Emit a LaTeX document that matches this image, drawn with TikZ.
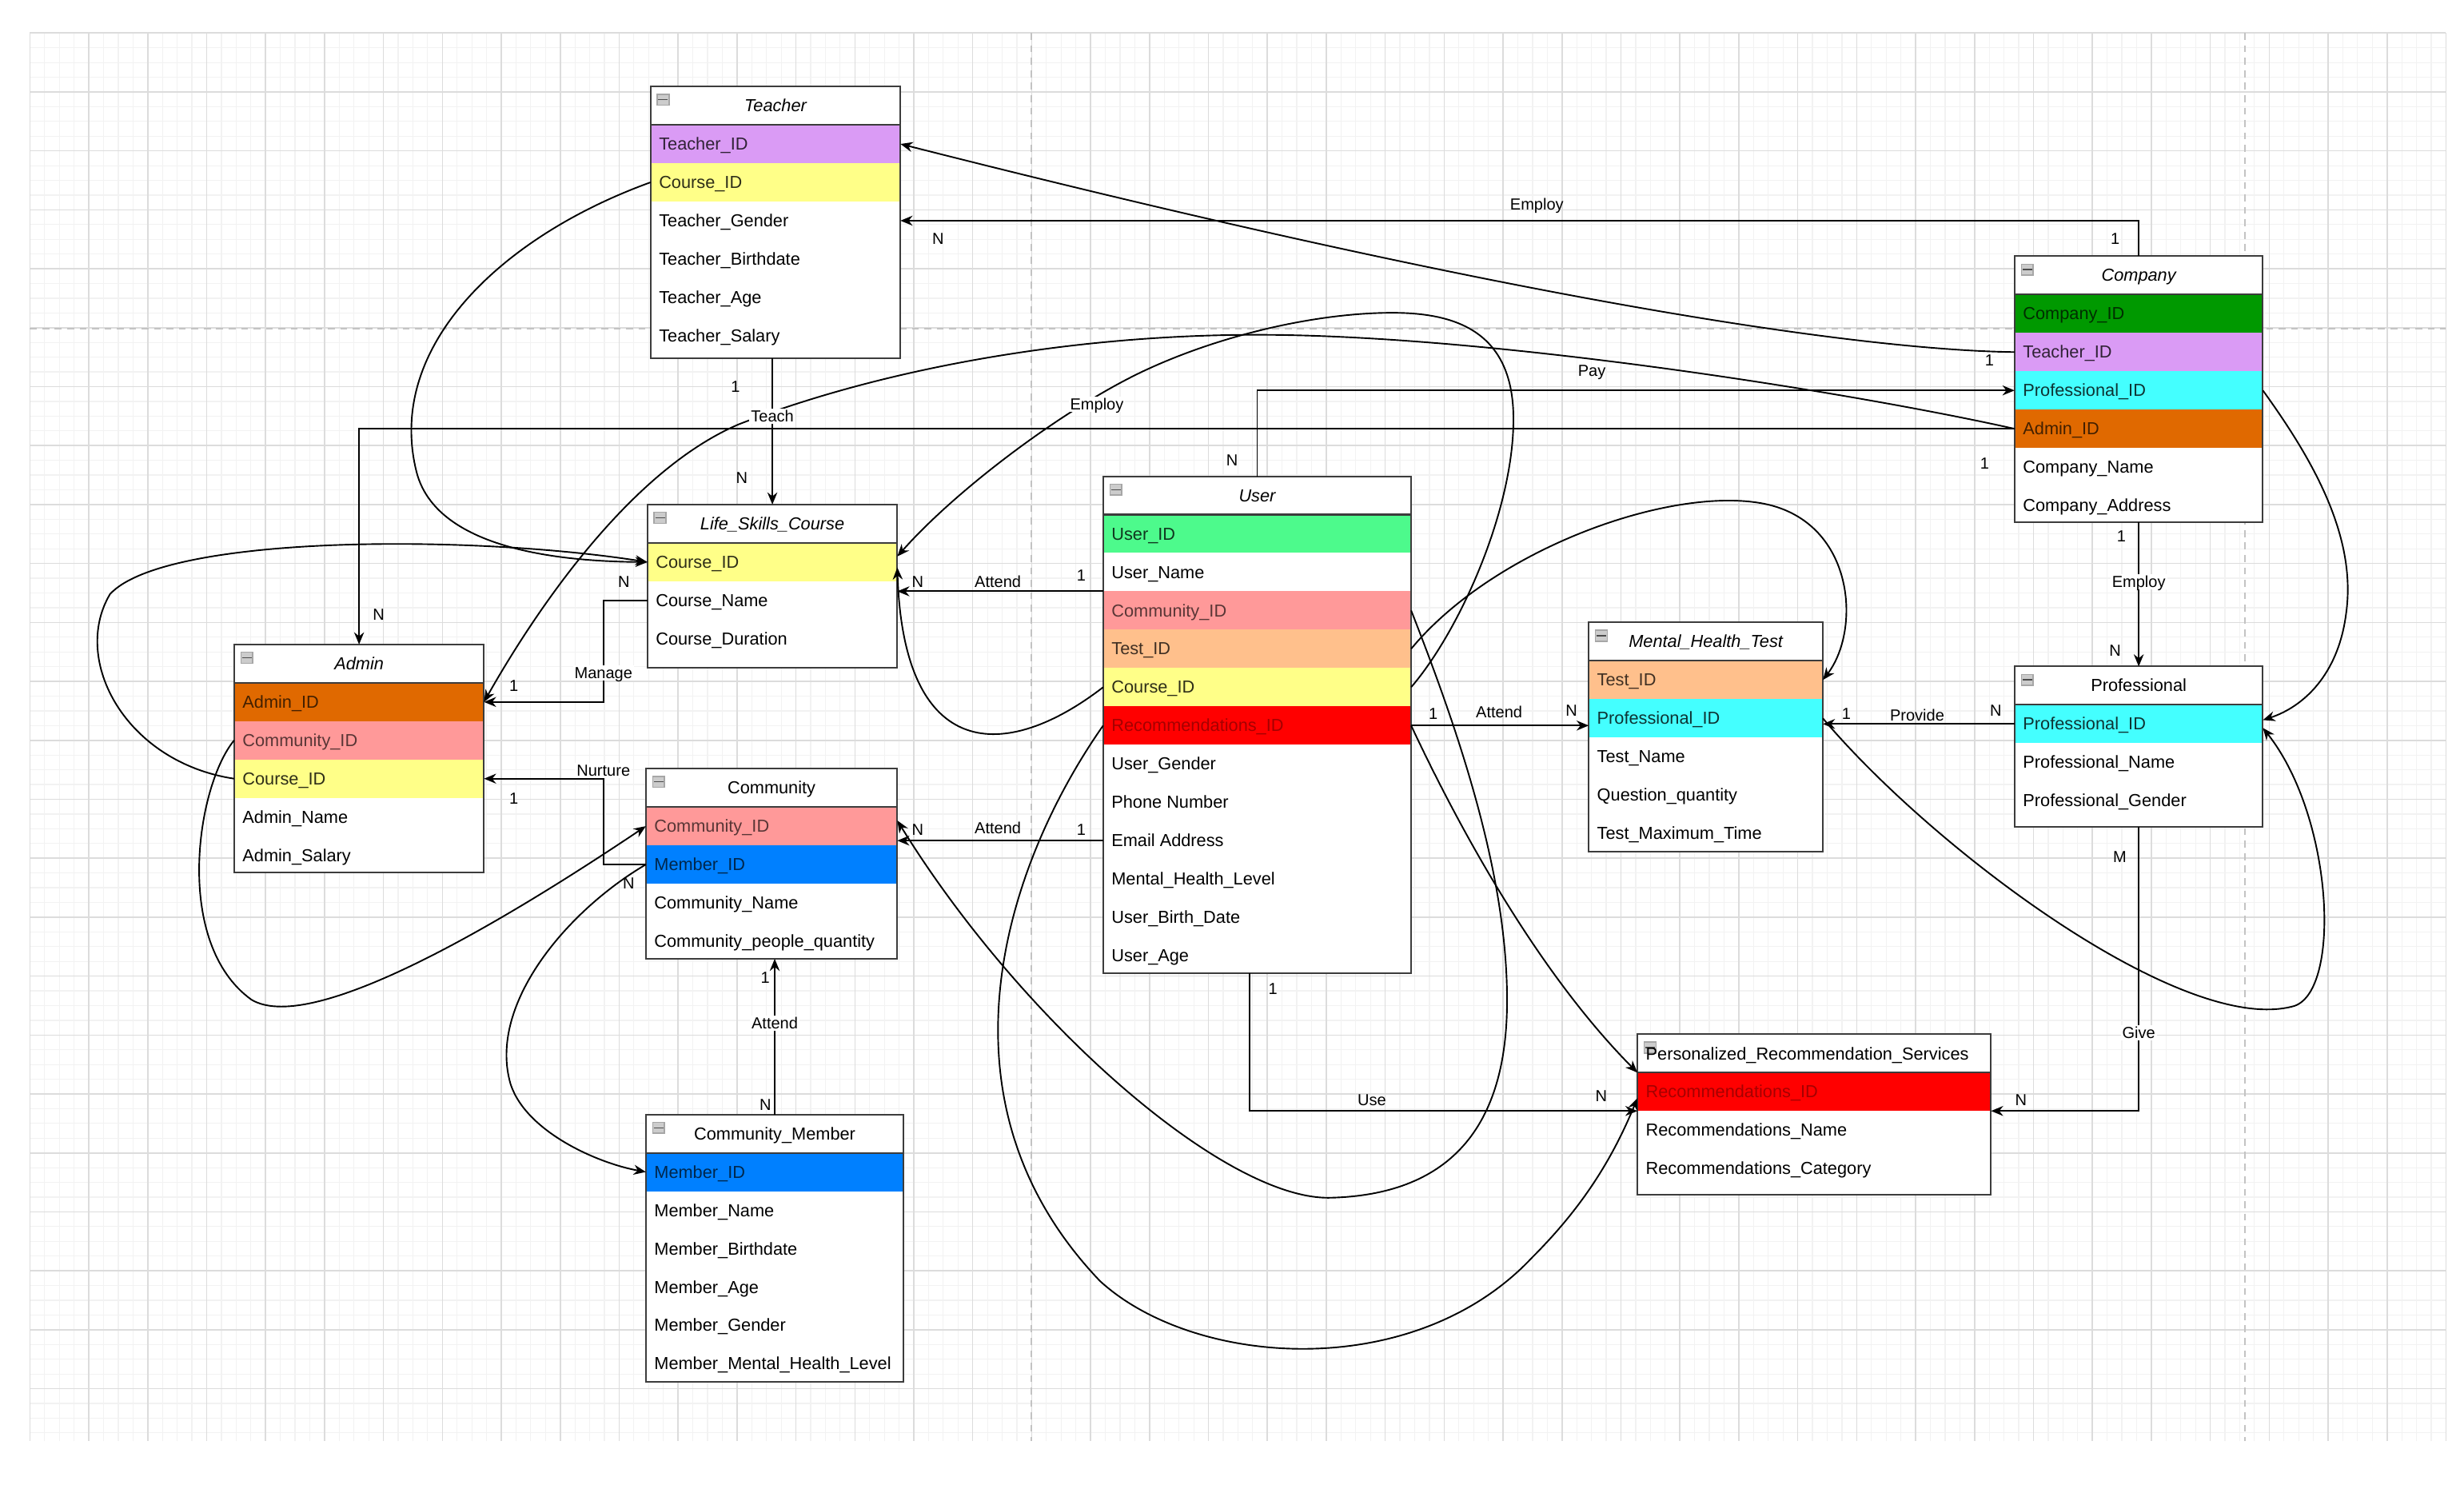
\documentclass[tikz,border=0pt]{standalone}
\usepackage{fontspec}
\setmainfont{Liberation Sans}
\usetikzlibrary{arrows.meta,calc}
\definecolor{cPur}{RGB}{218,155,245}
\definecolor{cYel}{RGB}{255,255,136}
\definecolor{cGrn}{RGB}{0,153,0}
\definecolor{cCya}{RGB}{68,255,255}
\definecolor{cOra}{RGB}{224,105,0}
\definecolor{cUgr}{RGB}{77,250,140}
\definecolor{cPnk}{RGB}{255,153,153}
\definecolor{cPch}{RGB}{255,192,140}
\definecolor{cRed}{RGB}{255,0,0}
\definecolor{tRed}{RGB}{165,0,0}
\definecolor{cBlu}{RGB}{0,128,255}
\definecolor{gMin}{RGB}{242,242,242}
\definecolor{gMaj}{RGB}{220,220,220}
\definecolor{gDash}{RGB}{195,195,195}
\definecolor{eBord}{RGB}{60,60,60}
\newcommand\efont{\fontsize{6.3}{7.5}\selectfont}
\newcommand\lfont{\fontsize{5.8}{7}\selectfont}
\newcommand\RH{24.4}
\newcommand\ent[5]{%
  \gdef\eid{#1}\gdef\eL{#2}\gdef\eT{#3}\gdef\eR{#4}%
  \node[ebg, minimum width={(#4-#2)*0.02cm}, minimum height={(#5-#3)*0.02cm}] (#1) at (#2,#3) {};}
\newcommand\erow[4]{%
  \node[rowfill, fill=#2, minimum width={(\eR-\eL)*0.02cm}] (\eid#1) at (\eL,{\eT+#1*\RH}) {};
  \node[etext, text=#3] (\eid#1t) at ({\eL+5},{\eT+(#1+0.5)*\RH}) {#4};}
\newcommand\eframe{%
  \draw[eborder] (\eL,{\eT+\RH}) -- (\eR,{\eT+\RH});
  \draw[eborder] (\eid.north west) rectangle (\eid.south east);
  \node[icon] (\eid ic) at ({\eL+8},{\eT+8.5}) {};}
\newcommand\efin[2]{%
  \eframe
  \node[etitle, font={\efont#2}] (\eid hd) at ({(\eL+\eR)/2},{\eT+\RH/2}) {#1};}
\tikzset{
 ebg/.style={anchor=north west, fill=white, inner sep=0pt, outer sep=0pt, draw=none},
 rowfill/.style={anchor=north west, inner sep=0pt, outer sep=0pt, draw=none, minimum height=0.488cm},
 etext/.style={anchor=west, inner sep=0pt, font=\efont, text height=4.5pt, text depth=0.1pt},
 etitle/.style={inner sep=0pt, text height=4.5pt, text depth=0.1pt},
 eborder/.style={draw=eBord, line width=0.6pt},
 icon/.style={draw=gray!70, fill=gray!40, minimum width=0.15cm, minimum height=0.14cm, inner sep=0pt,
   path picture={\draw[gray!60!black, line width=0.35pt] ([xshift=0.4pt]path picture bounding box.west) -- ([xshift=-0.4pt]path picture bounding box.east);}},
 conn/.style={draw=black, line width=0.55pt},
 tip/.style={-{Stealth[length=4.4pt,width=3.6pt]}},
 lbl/.style={font=\lfont, inner sep=0.6pt, text height=4.2pt, text depth=0.1pt},
 lblw/.style={lbl, fill=white},
 gmin/.style={draw=gMin, line width=0.35pt},
 gmaj/.style={draw=gMaj, line width=0.45pt},
 gdash/.style={draw=gDash, line width=0.6pt, dash pattern=on 2.5pt off 2pt},
}
\begin{document}
\begin{tikzpicture}[x=0.02cm, y=-0.02cm]
\fill[white] (0,0) rectangle (1568,952);
\useasboundingbox (0,0) rectangle (1568,952);
% grid
\foreach \i in {0,...,164} \draw[gmin] ({19+\i*9.375},21) -- ({19+\i*9.375},917);
\foreach \j in {0,...,95} \draw[gmin] (19,{21+\j*9.375}) -- (1556.5,{21+\j*9.375});
\foreach \i in {0,...,41} \draw[gmaj] ({19+\i*37.5},21) -- ({19+\i*37.5},917);
\foreach \j in {0,...,23} \draw[gmaj] (19,{21+\j*37.5}) -- (1556.5,{21+\j*37.5});
\draw[gdash] (656.5,21) -- (656.5,917);
\draw[gdash] (1428.5,21) -- (1428.5,917);
\draw[gdash] (19,209) -- (1556.5,209);

% Teacher
\ent{T}{414}{55}{573}{228}
\erow{1}{cPur}{cPur!22!black}{Teacher\_ID}
\erow{2}{cYel}{cYel!18!black}{Course\_ID}
\erow{3}{none}{black}{Teacher\_Gender}
\erow{4}{none}{black}{Teacher\_Birthdate}
\erow{5}{none}{black}{Teacher\_Age}
\erow{6}{none}{black}{Teacher\_Salary}
\efin{Teacher}{\itshape}

% Company
\ent{C}{1282}{163}{1440}{332}
\erow{1}{cGrn}{cGrn!30!black}{Company\_ID}
\erow{2}{cPur}{cPur!22!black}{Teacher\_ID}
\erow{3}{cCya}{cCya!20!black}{Professional\_ID}
\erow{4}{cOra}{cOra!30!black}{Admin\_ID}
\erow{5}{none}{black}{Company\_Name}
\erow{6}{none}{black}{Company\_Address}
\efin{Company}{\itshape}

% Life skills course
\ent{L}{412}{321}{571}{425}
\erow{1}{cYel}{cYel!18!black}{Course\_ID}
\erow{2}{none}{black}{Course\_Name}
\erow{3}{none}{black}{Course\_Duration}
\efin{Life\_Skills\_Course}{\itshape}

% User
\ent{U}{702}{303}{898}{619}
\erow{1}{cUgr}{cUgr!22!black}{User\_ID}
\erow{2}{none}{black}{User\_Name}
\erow{3}{cPnk}{cPnk!35!black}{Community\_ID}
\erow{4}{cPch}{cPch!25!black}{Test\_ID}
\erow{5}{cYel}{cYel!18!black}{Course\_ID}
\erow{6}{cRed}{tRed}{Recommendations\_ID}
\erow{7}{none}{black}{User\_Gender}
\erow{8}{none}{black}{Phone Number}
\erow{9}{none}{black}{Email Address}
\erow{10}{none}{black}{Mental\_Health\_Level}
\erow{11}{none}{black}{User\_Birth\_Date}
\erow{12}{none}{black}{User\_Age}
\efin{User}{\itshape}

% Admin
\ent{A}{149}{410}{308}{555}
\erow{1}{cOra}{cOra!30!black}{Admin\_ID}
\erow{2}{cPnk}{cPnk!35!black}{Community\_ID}
\erow{3}{cYel}{cYel!18!black}{Course\_ID}
\erow{4}{none}{black}{Admin\_Name}
\erow{5}{none}{black}{Admin\_Salary}
\efin{Admin}{\itshape}

% Community
\ent{M}{411}{489}{571}{610}
\erow{1}{cPnk}{cPnk!35!black}{Community\_ID}
\erow{2}{cBlu}{cBlu!30!black}{Member\_ID}
\erow{3}{none}{black}{Community\_Name}
\erow{4}{none}{black}{Community\_people\_quantity}
\efin{Community}{\upshape}

% Mental health test
\ent{H}{1011}{396}{1160}{542}
\erow{1}{cPch}{cPch!25!black}{Test\_ID}
\erow{2}{cCya}{cCya!20!black}{Professional\_ID}
\erow{3}{none}{black}{Test\_Name}
\erow{4}{none}{black}{Question\_quantity}
\erow{5}{none}{black}{Test\_Maximum\_Time}
\efin{Mental\_Health\_Test}{\itshape}

% Professional
\ent{P}{1282}{424}{1440}{526}
\erow{1}{cCya}{cCya!20!black}{Professional\_ID}
\erow{2}{none}{black}{Professional\_Name}
\erow{3}{none}{black}{Professional\_Gender}
\efin{Professional}{\upshape}

% Recommendation services
\ent{R}{1042}{658}{1267}{760}
\erow{1}{cRed}{tRed}{Recommendations\_ID}
\erow{2}{none}{black}{Recommendations\_Name}
\erow{3}{none}{black}{Recommendations\_Category}
\eframe
\node[etitle, font=\efont, anchor=west] (Rhd) at (1047,670.5) {Personalized\_Recommendation\_Services};

% Community member
\ent{B}{411}{709}{575}{879}
\erow{1}{cBlu}{cBlu!30!black}{Member\_ID}
\erow{2}{none}{black}{Member\_Name}
\erow{3}{none}{black}{Member\_Birthdate}
\erow{4}{none}{black}{Member\_Age}
\erow{5}{none}{black}{Member\_Gender}
\erow{6}{none}{black}{Member\_Mental\_Health\_Level}
\efin{Community\_Member}{\upshape}

% ---------- connectors ----------
\draw[conn,tip] (C2.west) .. controls (1200,223) and (1000,200) .. (T1.east);
\draw[conn,tip] (C.north) |- (T3.east);
\draw[conn,tip] (U.north) |- (C3.west);
\draw[conn,tip] (C4.west) -| (A.north);
\draw[conn,tip] (C4.west) .. controls (1180,250) and (950,213) .. (800,213) .. controls (680,213) and (560,235) .. (470,270) .. controls (400,300) and (340,390) .. (A1.east);
\draw[conn,tip] (L.north |- T.south) -- (L.north);
\draw[conn,tip] (T2.west) .. controls (320,150) and (245,220) .. (265,300) .. controls (275,340) and (330,357) .. (L1.west);
\draw[conn,tip] (A3.west) .. controls (80,485) and (45,420) .. (70,378) .. controls (105,340) and (300,340) .. (L1.west);
\draw[conn,tip] (A2.west) .. controls (125,500) and (110,600) .. (160,636) .. controls (200,660) and (330,580) .. (M1.west);
\draw[conn,tip] (L2.west) -- ($(L2.west)+(-28,0)$) |- (A1.east);
\draw[conn,tip] (M2.west) -- ($(M2.west)+(-27,0)$) |- (A3.east);
\draw[conn,tip] (U2.south west) -- (U2.south west -| L.east);
\draw[conn,tip] (U9.west) -- (U9.west -| M.east);
\draw[conn,tip] (U5.west) .. controls (640,485) and (575,485) .. ($(L1.east)+(0,3.4)$);
\draw[conn,tip] (U5.east) .. controls (930,400) and (965,320) .. (963,262) .. controls (961,210) and (925,199) .. (886,199) .. controls (840,199) and (780,212) .. (730,235) .. controls (680,258) and (610,310) .. ($(L1.east)+(0,-3.6)$);
\draw[conn,tip] (U3.east) .. controls (930,470) and (960,560) .. (959,640) .. controls (958,720) and (920,760) .. (847,762) .. controls (780,764) and (650,650) .. ($(M1.east)+(0,-3.6)$);
\draw[conn,tip] (U6.east) .. controls (930,530) and (980,620) .. (R1.north west);
\draw[conn,tip] (U4.east) .. controls (950,350) and (1060,310) .. (1120,320) .. controls (1180,330) and (1185,400) .. (H1.east);
\draw[conn,tip] (U6.east) -- (U6.east -| H.west);
\draw[conn,tip] (P1.west) -- (P1.west -| H.east);
\draw[conn,tip] (C.south) -- (P.north);
\draw[conn,tip] (P.south) |- (R1.south east);
\draw[conn,tip] ($(U.south)+(-5,0)$) |- (R1.south west);
\draw[conn,tip] (U6.west) .. controls (640,550) and (590,700) .. (700,815) .. controls (760,870) and (900,880) .. (975,800) .. controls (1005,770) and (1025,740) .. ($(R1.west)+(0,4)$);
\draw[conn,tip] (M2.west) .. controls (360,580) and (310,640) .. (325,690) .. controls (335,720) and (380,740) .. (B1.west);
\draw[conn,tip] (B.north) -- (B.north |- M.south);
\draw[conn,tip] (C3.east) .. controls (1470,290) and (1500,340) .. (1493,390) .. controls (1488,430) and (1465,450) .. ($(P1.east)+(0,-2.5)$);
\draw[conn,tip] (H2.east) .. controls (1230,540) and (1390,660) .. (1460,640) .. controls (1490,630) and (1485,520) .. ($(P1.east)+(0,2.5)$);

% ---------- labels ----------
\node[lbl] (lb1) at (1266,229) {1};
\node[lbl] (lb2) at (978,130) {Employ};
\node[lbl] (lb3) at (1346,152) {1};
\node[lbl] (lb4) at (597,152) {N};
\node[lbl] (lb5) at (1013,236) {Pay};
\node[lbl] (lb6) at (784,293) {N};
\node[lbl] (lb7) at (1263,295) {1};
\node[lbl] (lb8) at (241,391) {N};
\node[lbl] (lb9) at (468,246) {1};
\node[lblw] (lb10) at (491.5,265) {Teach};
\node[lbl] (lb11) at (472,304) {N};
\node[lblw] (lb12) at (698,257) {Employ};
\node[lbl] (lb13) at (397,370) {N};
\node[lblw] (lb14) at (384,428) {Manage};
\node[lbl] (lb15) at (327,436) {1};
\node[lblw] (lb16) at (384,490) {Nurture};
\node[lbl] (lb17) at (327,508) {1};
\node[lbl] (lb18) at (400,562) {N};
\node[lbl] (lb19) at (584,370) {N};
\node[lbl] (lb20) at (635,370) {Attend};
\node[lbl] (lb21) at (688,366) {1};
\node[lbl] (lb22) at (584,528) {N};
\node[lbl] (lb23) at (635,527) {Attend};
\node[lbl] (lb24) at (688,528) {1};
\node[lbl] (lb25) at (487,622) {1};
\node[lblw] (lb26) at (493,651) {Attend};
\node[lbl] (lb27) at (487,703) {N};
\node[lbl] (lb28) at (912,454) {1};
\node[lbl] (lb29) at (954,453) {Attend};
\node[lbl] (lb30) at (1000,452) {N};
\node[lbl] (lb31) at (1175,454) {1};
\node[lbl] (lb32) at (1220,455) {Provide};
\node[lbl] (lb33) at (1270,452) {N};
\node[lbl] (lb34) at (1350,341) {1};
\node[lblw] (lb35) at (1361,370) {Employ};
\node[lbl] (lb36) at (1346,414) {N};
\node[lbl] (lb37) at (1349,545) {M};
\node[lblw] (lb38) at (1361,657) {Give};
\node[lbl] (lb39) at (1286,700) {N};
\node[lbl] (lb40) at (810,629) {1};
\node[lbl] (lb41) at (873,700) {Use};
\node[lbl] (lb42) at (1019,697) {N};
\end{tikzpicture}
\end{document}
